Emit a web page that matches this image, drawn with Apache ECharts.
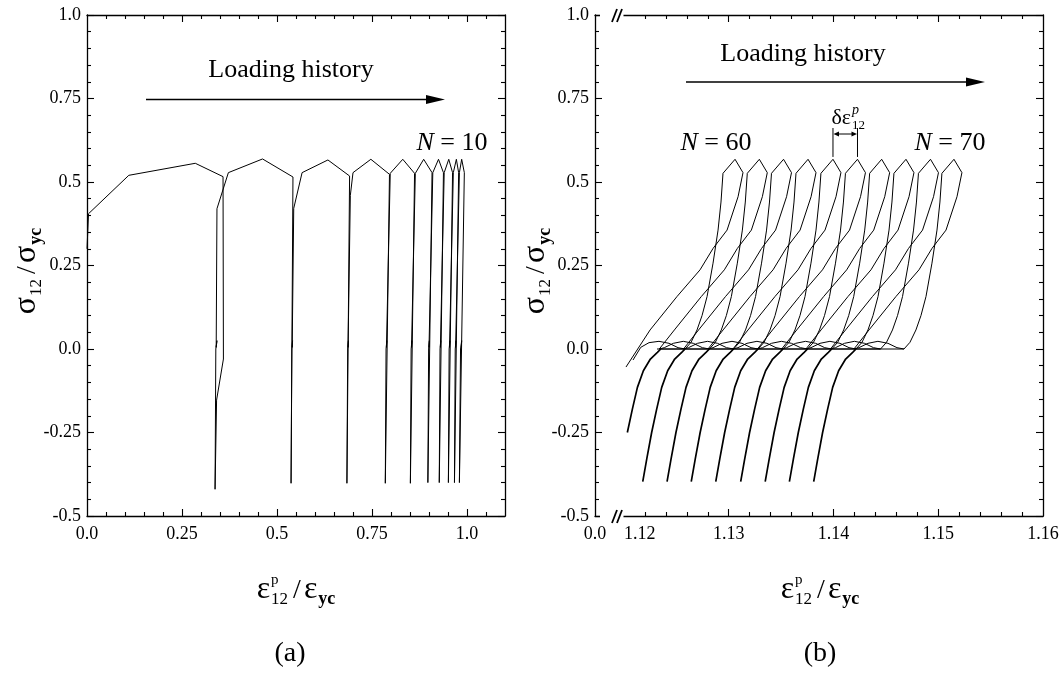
<!DOCTYPE html>
<html><head><meta charset="utf-8">
<script src="https://cdn.jsdelivr.net/npm/echarts@6/dist/echarts.min.js"></script>
<style>html,body{margin:0;padding:0;background:#fff}#c{width:1064px;height:674px}</style>
</head><body><div id="c"></div>
<script>
const FONT = '"Liberation Serif","Times New Roman",serif';

// ---------- Panel (a) ----------
const xLabelValA = [0, 0.25, 0.5, 0.75, 1.0];
const xLabelTxtA = ['0.0', '0.25', '0.5', '0.75', '1.0'];
const xMajorA = [0.25, 0.5, 0.75, 1.0];
const xMinorA = [0.05,0.1,0.15,0.2,0.3,0.35,0.4,0.45,0.55,0.6,0.65,0.7,0.8,0.85,0.9,0.95,1.05];
const yLabelTxt = {'-0.5':'-0.5','-0.25':'-0.25','0':'0.0','0.25':'0.25','0.5':'0.5','0.75':'0.75','1':'1.0'};

const curveA = [
 [0.000,0.300],[0.004,0.405],[0.110,0.520],[0.285,0.556],[0.358,0.516],[0.359,-0.030],[0.341,-0.153],[0.337,-0.420],
 [0.339,0.000],[0.342,0.025],[0.340,0.005],[0.342,0.420],[0.372,0.528],[0.462,0.569],[0.542,0.515],[0.537,-0.402],
 [0.539,0.000],[0.541,0.025],[0.540,0.005],[0.544,0.421],[0.566,0.528],[0.634,0.566],[0.691,0.518],[0.684,-0.402],
 [0.686,0.000],[0.688,0.025],[0.687,0.005],[0.693,0.460],[0.700,0.528],[0.747,0.568],[0.796,0.523],[0.785,-0.402],
 [0.787,0.000],[0.789,0.025],[0.788,0.005],[0.798,0.526],[0.831,0.568],[0.862,0.526],[0.851,-0.402],
 [0.853,0.000],[0.855,0.025],[0.854,0.005],[0.864,0.526],[0.886,0.568],[0.908,0.528],[0.897,-0.400],
 [0.899,0.000],[0.901,0.025],[0.900,0.005],[0.910,0.528],[0.925,0.568],[0.938,0.528],[0.927,-0.400],
 [0.929,0.000],[0.931,0.025],[0.930,0.005],[0.940,0.528],[0.952,0.568],[0.962,0.528],[0.951,-0.400],
 [0.953,0.000],[0.955,0.025],[0.954,0.005],[0.964,0.528],[0.972,0.568],[0.978,0.528],[0.967,-0.400],
 [0.969,0.000],[0.971,0.025],[0.970,0.005],[0.980,0.528],[0.986,0.568],[0.993,0.528],[0.980,-0.400],
 [0.983,0.000],[0.986,0.025],[0.985,0.005]
];

// ---------- Panel (b) ----------
const XB_MIN = 1.117232;   // left border of panel (b), labelled 0.0 (broken axis)
const XB_MAX = 1.16;
const xLabelValB = [XB_MIN, 1.1215, 1.13, 1.14, 1.15, 1.16];
const xMajorB = [1.13, 1.14, 1.15];
const xMinorB = [1.122,1.124,1.126,1.128,1.132,1.134,1.136,1.138,1.142,1.144,1.146,1.148,1.152,1.154,1.156,1.158];

// N = 60 loop (first one, open ends)
const loop60Strain = [1.12315,1.12583,1.12640,1.12697,1.12745,1.12793,1.12850,1.12898,1.12926,1.12945,1.13060,1.13136,1.13089,1.12984,1.12850,1.12726,1.12506,1.12249,1.12019];
const loop60Stress = [0,0,0.02,0.057,0.10,0.157,0.257,0.356,0.44,0.526,0.568,0.528,0.456,0.356,0.301,0.237,0.157,0.057,-0.054];
const arc60Strain = [1.12086,1.12160,1.12239,1.12334,1.12430,1.12516,1.12583];
const arc60Stress = [-0.033,0.005,0.019,0.023,0.017,0.004,0];

// following loops: same stress levels, strain read per loop
const loopStress = [0,0,0.02,0.057,0.10,0.157,0.257,0.356,0.44,0.526,0.568,0.528,0.456,0.356,0.301,0.237,0.157,0.057,0,0.004,0.017,0.023,0.017,0.004,0];
const loop61 = [1.12337,1.12815,1.12872,1.12929,1.12977,1.13025,1.13082,1.13130,1.13158,1.13177,1.13292,1.13368,1.13321,1.13216,1.13082,1.12958,1.12738,1.12481,1.12337,1.12385,1.12471,1.12566,1.12662,1.12748,1.12815];
const loop62 = [1.12568,1.13046,1.13103,1.13160,1.13208,1.13256,1.13313,1.13361,1.13389,1.13408,1.13523,1.13599,1.13552,1.13447,1.13313,1.13189,1.12969,1.12712,1.12568,1.12616,1.12702,1.12797,1.12893,1.12979,1.13046];
const loop63 = [1.12802,1.13280,1.13337,1.13394,1.13442,1.13490,1.13547,1.13595,1.13623,1.13642,1.13757,1.13833,1.13786,1.13681,1.13547,1.13423,1.13203,1.12946,1.12802,1.12850,1.12936,1.13031,1.13127,1.13213,1.13280];
const loop64 = [1.13040,1.13518,1.13575,1.13632,1.13680,1.13728,1.13785,1.13833,1.13861,1.13880,1.13995,1.14071,1.14024,1.13919,1.13785,1.13661,1.13441,1.13184,1.13040,1.13088,1.13174,1.13269,1.13365,1.13451,1.13518];
const loop65 = [1.13274,1.13752,1.13809,1.13866,1.13914,1.13962,1.14019,1.14067,1.14095,1.14114,1.14229,1.14305,1.14258,1.14153,1.14019,1.13895,1.13675,1.13418,1.13274,1.13322,1.13408,1.13503,1.13599,1.13685,1.13752];
const loop66 = [1.13505,1.13983,1.14040,1.14097,1.14145,1.14193,1.14250,1.14298,1.14326,1.14345,1.14460,1.14536,1.14489,1.14384,1.14250,1.14126,1.13906,1.13649,1.13505,1.13553,1.13639,1.13734,1.13830,1.13916,1.13983];
const loop67 = [1.13737,1.14215,1.14272,1.14329,1.14377,1.14425,1.14482,1.14530,1.14558,1.14577,1.14692,1.14768,1.14721,1.14616,1.14482,1.14358,1.14138,1.13881,1.13737,1.13785,1.13871,1.13966,1.14062,1.14148,1.14215];
const loop68 = [1.13971,1.14449,1.14506,1.14563,1.14611,1.14659,1.14716,1.14764,1.14792,1.14811,1.14926,1.15002,1.14955,1.14850,1.14716,1.14592,1.14372,1.14115,1.13971,1.14019,1.14105,1.14200,1.14296,1.14382,1.14449];
const loop69 = [1.14195,1.14673,1.14730,1.14787,1.14835,1.14883,1.14940,1.14988,1.15016,1.15035,1.15150,1.15226,1.15179,1.15074,1.14940,1.14816,1.14596,1.14339,1.14195,1.14243,1.14329,1.14424,1.14520,1.14606,1.14673];

// lower (reverse-loading) branches, drawn thicker
const lowStress = [-0.397,-0.33,-0.25,-0.18,-0.115,-0.065,-0.03,-0.01,0];
const low59Strain = [1.12032,1.12080,1.12128,1.12185,1.12252,1.12319,1.12351];
const low59Stress = [-0.25,-0.18,-0.115,-0.065,-0.03,-0.01,0];
const low60 = [1.12179,1.12217,1.12264,1.12312,1.12360,1.12417,1.12484,1.12551,1.12583];
const low61 = [1.12411,1.12449,1.12496,1.12544,1.12592,1.12649,1.12716,1.12783,1.12815];
const low62 = [1.12642,1.12680,1.12727,1.12775,1.12823,1.12880,1.12947,1.13014,1.13046];
const low63 = [1.12876,1.12914,1.12961,1.13009,1.13057,1.13114,1.13181,1.13248,1.13280];
const low64 = [1.13114,1.13152,1.13199,1.13247,1.13295,1.13352,1.13419,1.13486,1.13518];
const low65 = [1.13348,1.13386,1.13433,1.13481,1.13529,1.13586,1.13653,1.13720,1.13752];
const low66 = [1.13579,1.13617,1.13664,1.13712,1.13760,1.13817,1.13884,1.13951,1.13983];
const low67 = [1.13811,1.13849,1.13896,1.13944,1.13992,1.14049,1.14116,1.14183,1.14215];

// annotation anchors (data coords)
const deltaPeaks = [1.13995, 1.14229];

// ---------- build ----------
const zip = (xs, ys) => xs.map((x, i) => [x, ys[i]]);
const LS = {color:'#000', width:1.3};
const TS = {color:'#000', width:1.1};
const lbl = {color:'#000', fontFamily:FONT, fontSize:18};

function xAxes(grid, min, max, labelVals, fmt, majors, minors){
  return [
    {gridIndex:grid, type:'value', position:'bottom', min, max, axisLine:{show:true,onZero:false,lineStyle:LS},
     axisTick:{show:true,inside:true,length:7,customValues:majors,lineStyle:TS},
     axisLabel:Object.assign({show:true,customValues:labelVals,formatter:fmt,margin:9},lbl), splitLine:{show:false}},
    {gridIndex:grid, type:'value', position:'bottom', min, max, axisLine:{show:false,onZero:false},
     axisTick:{show:true,inside:true,length:4,customValues:minors,lineStyle:TS}, axisLabel:{show:false}, splitLine:{show:false}},
    {gridIndex:grid, type:'value', position:'top', min, max, axisLine:{show:true,onZero:false,lineStyle:LS},
     axisTick:{show:true,inside:true,length:7,customValues:majors,lineStyle:TS}, axisLabel:{show:false}, splitLine:{show:false}},
    {gridIndex:grid, type:'value', position:'top', min, max, axisLine:{show:false,onZero:false},
     axisTick:{show:true,inside:true,length:4,customValues:minors,lineStyle:TS}, axisLabel:{show:false}, splitLine:{show:false}}
  ];
}
function yAxes(grid){
  const base = {gridIndex:grid, type:'value', min:-0.5, max:1.0, interval:0.25,
    axisLine:{show:true,onZero:false,lineStyle:LS}, axisTick:{show:true,inside:true,length:7,lineStyle:TS},
    minorTick:{show:true,splitNumber:5,length:4,lineStyle:TS}, splitLine:{show:false}};
  return [
    Object.assign({}, base, {position:'left', axisLabel:Object.assign({show:true,margin:6,formatter:v=>yLabelTxt[String(v)]||String(v)},lbl)}),
    Object.assign({}, base, {position:'right', axisLabel:{show:false}})
  ];
}
const fmtA = v => { const i = xLabelValA.findIndex(t => Math.abs(t - v) < 1e-9); return i >= 0 ? xLabelTxtA[i] : ''; };
const fmtB = v => v < 1.119 ? '0.0' : (v < 1.125 ? '1.12' : v.toFixed(2));

const lineS = (data, xi, yi, w) => ({type:'line', xAxisIndex:xi, yAxisIndex:yi, data, symbol:'none', showSymbol:false,
  lineStyle:{color:'#000', width:w||1}, silent:true, clip:true, z:3});

const series = [lineS(curveA, 0, 0, 1)];
series.push(lineS(zip(loop60Strain, loop60Stress), 4, 2));
series.push(lineS(zip(arc60Strain, arc60Stress), 4, 2));
[loop61, loop62, loop63, loop64, loop65, loop66, loop67, loop68, loop69].forEach(l => series.push(lineS(zip(l, loopStress), 4, 2)));
series.push(lineS(zip(low59Strain, low59Stress), 4, 2, 1.7));
[low60, low61, low62, low63, low64, low65, low66, low67].forEach(l => series.push(lineS(zip(l, lowStress), 4, 2, 1.7)));

const chart = echarts.init(document.getElementById('c'));
chart.setOption({
  animation:false, backgroundColor:'#fff',
  grid:[{left:87, top:15, width:418, height:501}, {left:595, top:15, width:448, height:501}],
  xAxis:[...xAxes(0, 0, 1.1, xLabelValA, fmtA, xMajorA, xMinorA), ...xAxes(1, XB_MIN, XB_MAX, xLabelValB, fmtB, xMajorB, xMinorB)],
  yAxis:[...yAxes(0), ...yAxes(1)],
  series
});

// ---------- annotations ----------
const mctx = document.createElement('canvas').getContext('2d');
function tw(t, fs, fw, fst){ mctx.font = (fst||'normal') + ' ' + (fw||'normal') + ' ' + fs + 'px ' + FONT; return mctx.measureText(t).width; }
function formula(pieces, cx, cy, rot){
  let x = 0, prevX = 0; const els = [];
  pieces.forEach(p => {
    const w = tw(p.t, p.fs, p.fw, p.fst);
    const px = p.stack ? prevX : x;
    els.push({type:'text', x:px, y:(p.dy||0) + 0.16*p.fs, z:100,
      style:{text:p.t, fontSize:p.fs, fontFamily:FONT, fontWeight:p.fw||'normal', fontStyle:p.fst||'normal', fill:'#000', align:'left', verticalAlign:'bottom'}});
    if (!p.stack) { prevX = px; x = px + w + (p.gap||0); }
  });
  els.forEach(e => e.x -= x/2);
  return {type:'group', x:cx, y:cy, rotation:rot||0, children:els, z:100};
}
function arrow(x1, x2, y){
  return [{type:'line', z:100, shape:{x1, y1:y, x2:x2-14, y2:y}, style:{stroke:'#000', lineWidth:1.6}},
          {type:'polygon', z:100, shape:{points:[[x2,y],[x2-19,y-4.5],[x2-19,y+4.5]]}, style:{fill:'#000'}}];
}
const pB = (x, y) => chart.convertToPixel({xAxisIndex:4, yAxisIndex:2}, [x, y]);

const g = [];
// axis titles
const yTitle = [{t:'σ',fs:32,gap:1},{t:'12',fs:17,dy:5,gap:5},{t:'/',fs:28,gap:3},{t:'σ',fs:32,gap:1},{t:'yc',fs:18,fw:'bold',dy:5}];
const xTitle = [{t:'ε',fs:32,gap:1},{t:'12',fs:17,dy:5,gap:5},{t:'p',fs:15,dy:-15,stack:true},{t:'/',fs:28,gap:3},{t:'ε',fs:32,gap:1},{t:'yc',fs:18,fw:'bold',dy:5}];
g.push(formula(yTitle, 37, 271, Math.PI/2));
g.push(formula(yTitle, 546, 271, Math.PI/2));
g.push(formula(xTitle, 296, 600));
g.push(formula(xTitle, 820, 600));
// panel labels
g.push(formula([{t:'(a)',fs:28}], 290, 663));
g.push(formula([{t:'(b)',fs:28}], 820, 663));
// loading history
g.push(formula([{t:'Loading history',fs:26}], 291, 79));
g.push(...arrow(146, 445, 99.5));
g.push(formula([{t:'Loading history',fs:26}], 803, 63));
g.push(...arrow(686, 985, 82));
// N labels
g.push(formula([{t:'N',fs:26,fst:'italic'},{t:' = 10',fs:26}], 452, 152));
g.push(formula([{t:'N',fs:26,fst:'italic'},{t:' = 60',fs:26}], 716, 152));
g.push(formula([{t:'N',fs:26,fst:'italic'},{t:' = 70',fs:26}], 950, 152));
// delta epsilon annotation
const d1 = pB(deltaPeaks[0], 0.575), d2 = pB(deltaPeaks[1], 0.575);
const yTop = 128, yArr = 134;
g.push({type:'line', z:100, shape:{x1:d1[0], y1:d1[1], x2:d1[0], y2:yTop}, style:{stroke:'#000', lineWidth:1}});
g.push({type:'line', z:100, shape:{x1:d2[0], y1:d2[1], x2:d2[0], y2:yTop}, style:{stroke:'#000', lineWidth:1}});
g.push({type:'line', z:100, shape:{x1:d1[0]+4, y1:yArr, x2:d2[0]-4, y2:yArr}, style:{stroke:'#000', lineWidth:1}});
g.push({type:'polygon', z:100, shape:{points:[[d1[0]+0.5,yArr],[d1[0]+6,yArr-2.5],[d1[0]+6,yArr+2.5]]}, style:{fill:'#000'}});
g.push({type:'polygon', z:100, shape:{points:[[d2[0]-0.5,yArr],[d2[0]-6,yArr-2.5],[d2[0]-6,yArr+2.5]]}, style:{fill:'#000'}});
g.push(formula([{t:'δε',fs:22,gap:1},{t:'12',fs:13,dy:4},{t:'p',fs:14,fst:'italic',dy:-11,stack:true}], (d1[0]+d2[0])/2 + 3, 126));
// axis break marks on panel (b)
const b0 = pB(1.12, -0.5), b1 = pB(1.12, 1.0);
[b0[1], b1[1]].forEach(yy => {
  g.push({type:'rect', z:99, shape:{x:600, y:yy-2, width:b0[0]-600-0.5, height:4}, style:{fill:'#fff'}});
  g.push({type:'line', z:100, shape:{x1:b0[0]-12, y1:yy+7, x2:b0[0]-7, y2:yy-6}, style:{stroke:'#000', lineWidth:1.8}});
  g.push({type:'line', z:100, shape:{x1:b0[0]-7, y1:yy+7, x2:b0[0]-2, y2:yy-6}, style:{stroke:'#000', lineWidth:1.8}});
});
chart.setOption({graphic:g});
</script>
</body></html>
